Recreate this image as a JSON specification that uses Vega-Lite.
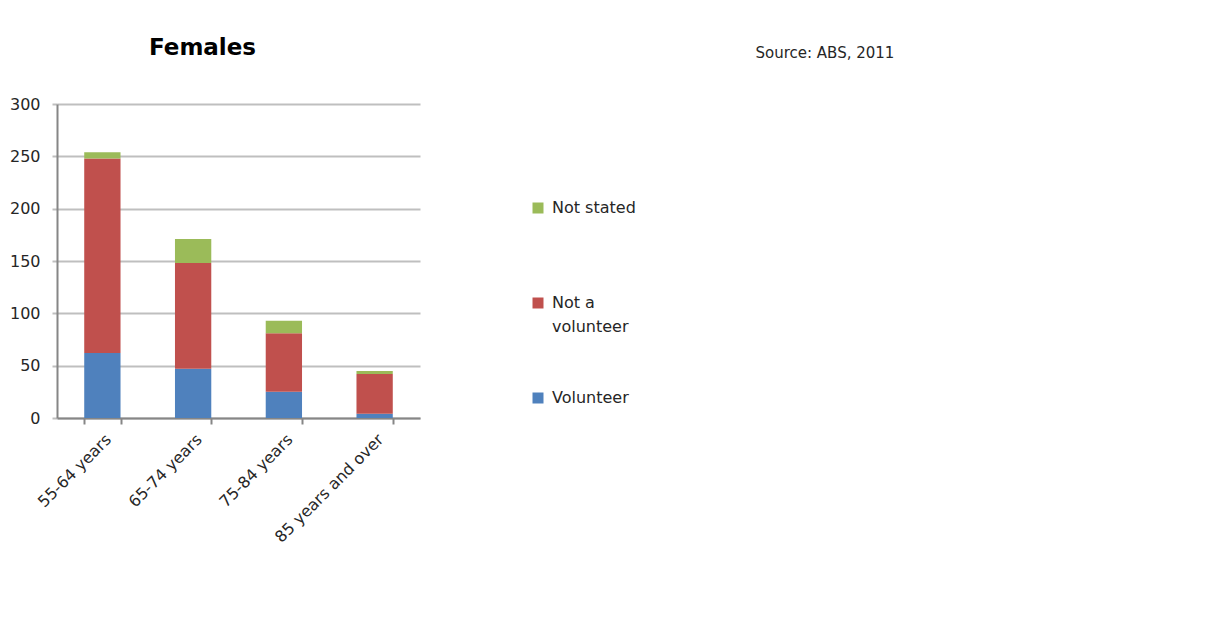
{
  "$schema": "https://vega.github.io/schema/vega-lite/v6.json",
  "autosize": "none",
  "width": 363,
  "height": 314,
  "padding": {"left": 57, "top": 104, "right": 788, "bottom": 211},
  "background": "white",
  "title": {
    "text": "Females",
    "anchor": "start",
    "frame": "group",
    "dx": 92,
    "offset": 0,
    "dy": 15,
    "fontSize": 23,
    "fontWeight": "bold",
    "font": "DejaVu Sans",
    "color": "#000000"
  },
  "config": {
    "font": "DejaVu Sans",
    "view": {"stroke": null}
  },
  "data": {
    "values": [
      {"age": "55-64 years", "status": "Volunteer", "value": 62, "rank": 1},
      {"age": "55-64 years", "status": "Not a volunteer", "value": 186, "rank": 2},
      {"age": "55-64 years", "status": "Not stated", "value": 6, "rank": 3},
      {"age": "65-74 years", "status": "Volunteer", "value": 47, "rank": 1},
      {"age": "65-74 years", "status": "Not a volunteer", "value": 101, "rank": 2},
      {"age": "65-74 years", "status": "Not stated", "value": 23, "rank": 3},
      {"age": "75-84 years", "status": "Volunteer", "value": 25, "rank": 1},
      {"age": "75-84 years", "status": "Not a volunteer", "value": 56, "rank": 2},
      {"age": "75-84 years", "status": "Not stated", "value": 12, "rank": 3},
      {"age": "85 years and over", "status": "Volunteer", "value": 4, "rank": 1},
      {"age": "85 years and over", "status": "Not a volunteer", "value": 38, "rank": 2},
      {"age": "85 years and over", "status": "Not stated", "value": 3, "rank": 3}
    ]
  },
  "mark": {"type": "bar"},
  "encoding": {
    "x": {
      "field": "age",
      "type": "nominal",
      "sort": ["55-64 years", "65-74 years", "75-84 years", "85 years and over"],
      "scale": {"paddingInner": 0.6, "paddingOuter": 0.3},
      "axis": {
        "title": "Source: ABS, 2011",
        "titleX": 698,
        "titleY": -366,
        "titleAlign": "left",
        "titleBaseline": "middle",
        "titleFontSize": 15,
        "titleFontWeight": "normal",
        "titleColor": "#262626",
        "domainColor": "#868686",
        "domainWidth": 2,
        "tickColor": "#868686",
        "tickWidth": 2,
        "tickSize": 6,
        "tickBand": "extent",
        "labelAngle": -45,
        "labelFontSize": 16,
        "labelColor": "#262626",
        "labelPadding": 7,
        "grid": false
      }
    },
    "y": {
      "field": "value",
      "type": "quantitative",
      "stack": "zero",
      "scale": {"domain": [0, 300], "nice": false},
      "axis": {
        "title": null,
        "values": [0, 50, 100, 150, 200, 250, 300],
        "grid": true,
        "gridColor": "#BFBFBF",
        "gridWidth": 2,
        "domainColor": "#868686",
        "domainWidth": 2,
        "tickColor": "#BFBFBF",
        "tickWidth": 2,
        "tickSize": 5,
        "labelFontSize": 16,
        "labelColor": "#262626",
        "labelPadding": 12
      }
    },
    "color": {
      "field": "status",
      "type": "nominal",
      "scale": {
        "domain": ["Not stated", "Not a volunteer", "Volunteer"],
        "range": ["#9BBB59", "#C0504D", "#4F81BD"]
      },
      "legend": {
        "title": null,
        "orient": "none",
        "legendX": 473,
        "legendY": 96,
        "symbolType": "square",
        "symbolSize": 121,
        "symbolStrokeWidth": 0,
        "labelFontSize": 16,
        "labelColor": "#262626",
        "labelOffset": 6,
        "rowPadding": 55,
        "labelExpr": "datum.label == 'Not a volunteer' ? ['Not a', 'volunteer'] : [datum.label, '']",
        "labelLimit": 300,
        "encode": {"labels": {"update": {"lineHeight": {"value": 24}}}}
      }
    },
    "order": {"field": "rank", "type": "quantitative"}
  }
}
